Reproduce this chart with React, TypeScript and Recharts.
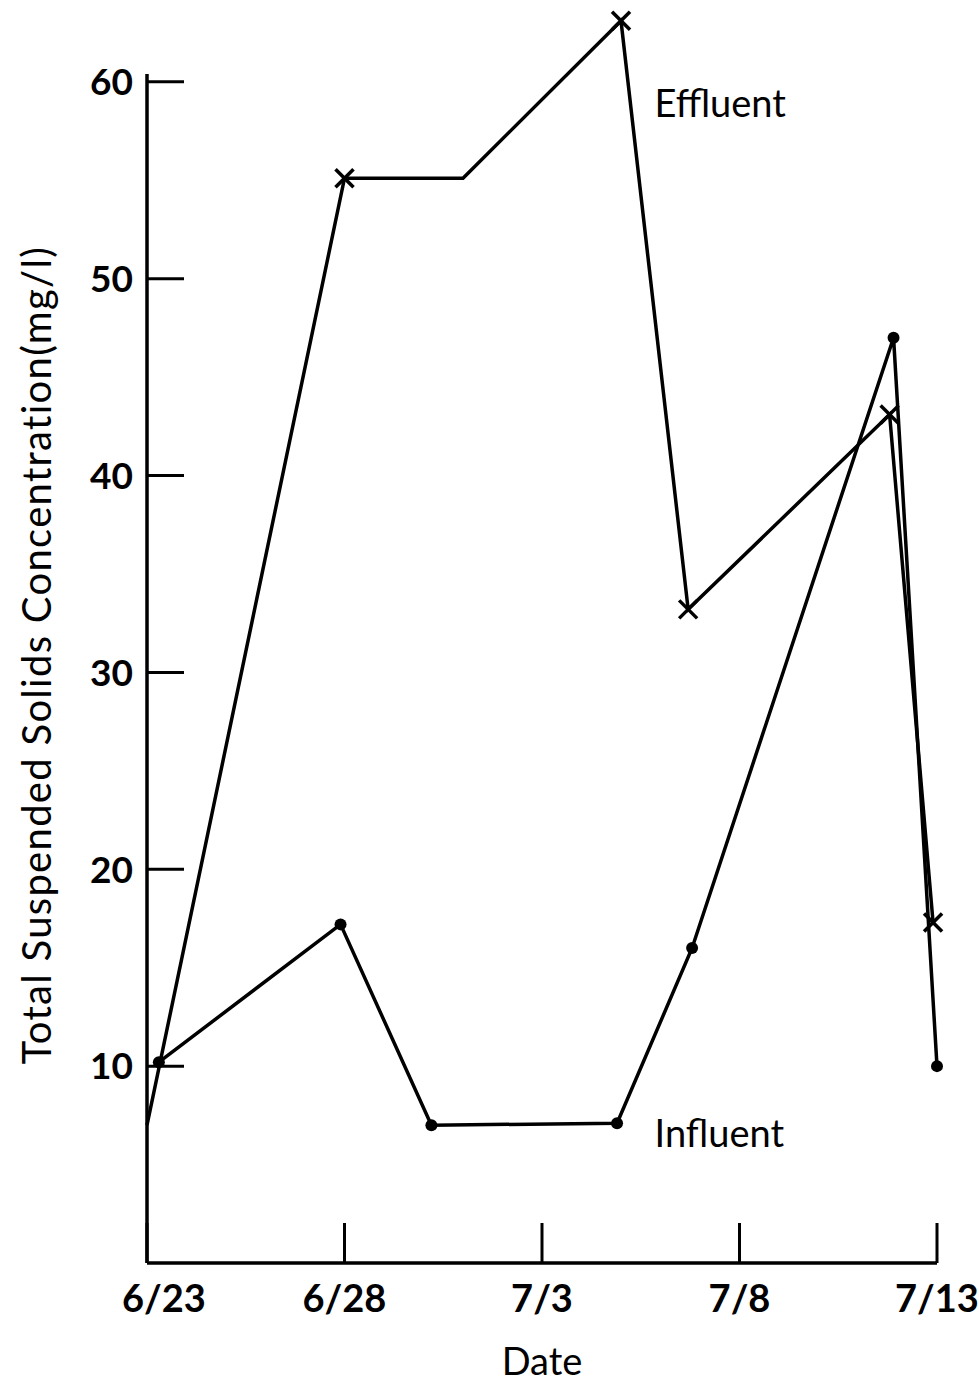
import React from 'react';
import { LineChart, Line, XAxis, YAxis, ReferenceLine, ReferenceDot, Label } from 'recharts';

// x axis = days since 6/23
const dateTicks = [0, 5, 10, 15, 20];
const dateLabels = ['6/23', '6/28', '7/3', '7/8', '7/13'];
const valueTicks = [10, 20, 30, 40, 50, 60];

const effluentDays = [0, 5, 8, 12, 13.7, 18.8, 19.9];
const effluentValues = [7, 55.1, 55.1, 63.1, 33.2, 43.1, 17.3];
const effluentMarked = [false, true, false, true, true, true, true];

const influentDays = [0.3, 4.9, 7.2, 11.9, 13.8, 18.9, 20];
const influentValues = [10.2, 17.2, 7.0, 7.1, 16.0, 47.0, 10.0];

const effluentData = effluentDays.map((day, i) => ({ day, value: effluentValues[i] }));
const influentData = influentDays.map((day, i) => ({ day, value: influentValues[i] }));

const FONT = 'Lato, "DejaVu Sans", sans-serif';

const DateTick = (props: any) => {
  const { x, y, payload } = props;
  const idx = dateTicks.indexOf(payload.value);
  // first label sits a little right of the axis corner in the original
  const dx = idx === 0 ? 17 : 0;
  return (
    <g>
      <line x1={x} y1={y} x2={x} y2={y - 40} stroke="#000" strokeWidth={3} />
      <text x={x + dx} y={y + 49} textAnchor="middle" fontFamily={FONT} fontWeight={700} fontSize={38} fill="#000">
        {dateLabels[idx]}
      </text>
    </g>
  );
};

const ValueTick = (props: any) => {
  const { x, y, payload } = props;
  return (
    <g>
      <line x1={x} y1={y} x2={x + 37} y2={y} stroke="#000" strokeWidth={3} />
      <text x={x - 14} y={y} dy="0.36em" textAnchor="end" fontFamily={FONT} fontWeight={700} fontSize={37} fill="#000">
        {payload.value}
      </text>
    </g>
  );
};

const YTitle = (props: any) => {
  const { viewBox } = props;
  const cx = 51;
  const cy = viewBox.y + viewBox.height / 2 + 22;
  return (
    <text
      x={cx}
      y={cy}
      textAnchor="middle"
      transform={`rotate(-90, ${cx}, ${cy})`}
      fontFamily={FONT}
      fontSize={40}
      letterSpacing={1.3}
      fill="#000"
    >
      Total Suspended Solids Concentration(mg/l)
    </text>
  );
};

const CrossDot = (props: any) => {
  const { cx, cy, index } = props;
  if (!effluentMarked[index]) return <g key={`e${index}`} />;
  const s = 9;
  return (
    <g key={`e${index}`}>
      <line x1={cx - s} y1={cy - s} x2={cx + s} y2={cy + s} stroke="#000" strokeWidth={3.5} />
      <line x1={cx - s} y1={cy + s} x2={cx + s} y2={cy - s} stroke="#000" strokeWidth={3.5} />
    </g>
  );
};

const BallDot = (props: any) => {
  const { cx, cy, index } = props;
  return <circle key={`i${index}`} cx={cx} cy={cy} r={6} fill="#000" />;
};

export default function App() {
  return (
    <div style={{ position: 'absolute', left: 0, top: 0, background: '#fff' }}>
      <LineChart width={979} height={1382} margin={{ top: 3, right: 42, bottom: 0, left: 0 }}>
        <XAxis
          type="number"
          dataKey="day"
          domain={[0, 20]}
          ticks={dateTicks}
          height={119}
          tickSize={0}
          tickMargin={0}
          tickLine={false}
          tick={<DateTick />}
          axisLine={{ stroke: '#000', strokeWidth: 3.5 }}
        >
          <Label value="Date" position="insideBottom" offset={7} fontFamily={FONT} fontSize={38} fill="#000" />
        </XAxis>
        <YAxis
          type="number"
          domain={[0, 64]}
          ticks={valueTicks}
          width={147}
          axisLine={false}
          tickLine={false}
          tickSize={0}
          tickMargin={0}
          tick={<ValueTick />}
          label={<YTitle />}
        />
        <ReferenceLine segment={[{ x: 0, y: 0 }, { x: 0, y: 60.4 }]} stroke="#000" strokeWidth={3.5} />
        <Line
          data={effluentData}
          dataKey="value"
          type="linear"
          stroke="#000"
          strokeWidth={3.5}
          dot={CrossDot}
          activeDot={false}
          isAnimationActive={false}
        />
        <Line
          data={influentData}
          dataKey="value"
          type="linear"
          stroke="#000"
          strokeWidth={3.5}
          dot={BallDot}
          activeDot={false}
          isAnimationActive={false}
        />
        <ReferenceDot
          x={12.85}
          y={58.9}
          r={0}
          fill="none"
          stroke="none"
          label={{ value: 'Effluent', position: 'right', offset: 0, fontFamily: FONT, fontSize: 38, fill: '#000' }}
        />
        <ReferenceDot
          x={12.85}
          y={6.6}
          r={0}
          fill="none"
          stroke="none"
          label={{ value: 'Influent', position: 'right', offset: 0, fontFamily: FONT, fontSize: 38, fill: '#000' }}
        />
      </LineChart>
    </div>
  );
}
